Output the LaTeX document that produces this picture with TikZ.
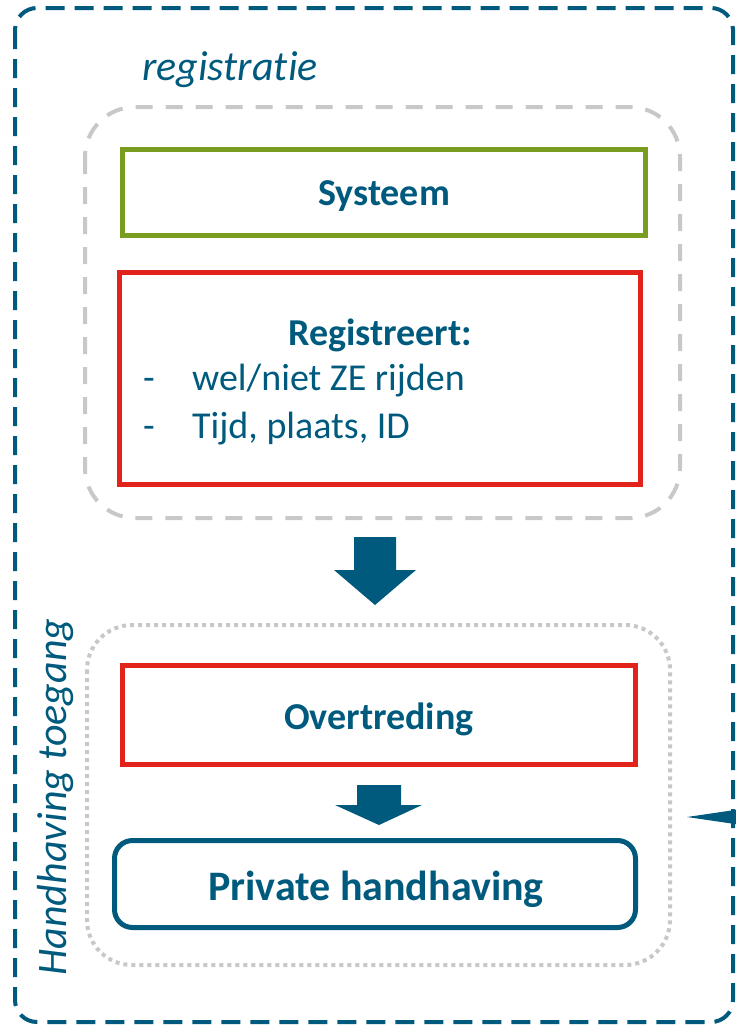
\documentclass[tikz,border=0pt]{standalone}
\usepackage{fontspec}
\setmainfont{Carlito}[Ligatures=NoCommon]
\definecolor{tealblue}{RGB}{0,90,125}
\definecolor{boxred}{RGB}{226,35,28}
\definecolor{boxgreen}{RGB}{120,157,33}
\definecolor{lightgray}{RGB}{200,200,200}
\tikzset{ box/.style = { rectangle
                       , draw
                       , line width   = 5pt
                       , inner sep    = 0pt
                       , font         = \fontsize{38}{46}\selectfont\bfseries
                       },
          blockarrow/.style = { fill = tealblue
                              },
          label/.style = { inner sep = 0pt
                         , anchor    = base west
                         },
          title/.style = { inner sep = 0pt
                         , font      = \fontsize{42}{50}\selectfont\itshape
                         }
        }

\begin{document}
\begin{tikzpicture}[x=1pt, y=-1pt, font=\fontsize{38}{46}\selectfont, text=tealblue]
  \useasboundingbox (0,0) rectangle (736,1026);

  % frames
  \draw[tealblue, line width=4pt, dash pattern=on 19pt off 10pt, rounded corners=22pt]
       (15,8) rectangle (733,1022);
  \draw[lightgray, line width=4pt, dash pattern=on 17pt off 13pt, rounded corners=50pt]
       (85,107) rectangle (680,518);
  \draw[lightgray, line width=4pt, dash pattern=on 4pt off 4pt, rounded corners=45pt]
       (87,625) rectangle (670,965);

  \node[title] (reg) at (230,70) {registratie};
  \node[title, rotate=90] (hht) at (56,797) {Handhaving toegang};

  % registratie
  \node[box, draw=boxgreen, minimum width=523pt, minimum height=86pt] (sys) at (384,192.5) {};
  \node[box, draw=none] (systxt) at (384,196) {Systeem};
  \node[box, draw=boxred,   minimum width=521pt, minimum height=212pt] (regt) at (380,378.5) {};
  \node[inner sep=0pt, font=\fontsize{38}{46}\selectfont\bfseries] (regtitle) at (380,335) {Registreert:};
  \node[label] (d1) at (143,390) {-};
  \node[label] (l1) at (192,390) {wel/niet ZE rijden};
  \node[label] (d2) at (143,438) {-};
  \node[label] (l2) at (192,438) {Tijd, plaats, ID};

  % block arrows
  \fill[blockarrow] (354,537) -- (396,537) -- (396,570) -- (416,570) -- (375,605)
                 -- (334,570) -- (354,570) -- cycle;

  % handhaving
  \node[box, draw=boxred, minimum width=513pt, minimum height=99pt] (ovt) at (379,715) {};
  \node[box, draw=none] (ovttxt) at (379,719) {Overtreding};
  \fill[blockarrow] (357,785) -- (401,785) -- (401,805) -- (422,805) -- (379,825)
                 -- (335,805) -- (357,805) -- cycle;
  \node[box, draw=tealblue, rounded corners=18pt, minimum width=521pt, minimum height=87pt]
       (pvh) at (375,884) {};
  \node[box, draw=none, font=\fontsize{42}{50}\selectfont\bfseries] (pvhtxt) at (376,889)
       {Private handhaving};

  \fill[blockarrow] (687,817) -- (745,808.5) -- (745,825.5) -- cycle;
\end{tikzpicture}
\end{document}
